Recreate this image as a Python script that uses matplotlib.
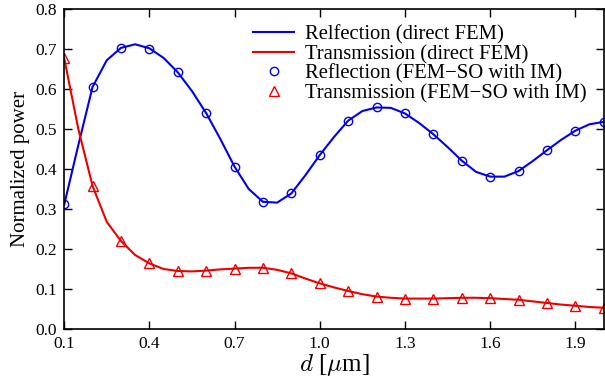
import matplotlib
matplotlib.use('Agg')
import matplotlib.pyplot as plt
import numpy as np
from matplotlib import rcParams

# direct FEM, sampled every 0.05 um
d_fem = np.round(np.arange(0.1, 2.0001, 0.05), 2)
refl_fem = [0.31, 0.46, 0.605, 0.672, 0.703, 0.712, 0.702, 0.678, 0.642, 0.595,
            0.54, 0.475, 0.406, 0.35, 0.318, 0.316, 0.339, 0.385, 0.435, 0.48,
            0.521, 0.545, 0.554, 0.553, 0.539, 0.515, 0.487, 0.455, 0.421, 0.393,
            0.381, 0.381, 0.395, 0.42, 0.447, 0.473, 0.496, 0.512, 0.518]
trans_fem = [0.678, 0.50, 0.358, 0.268, 0.22, 0.185, 0.164, 0.15, 0.145, 0.144,
             0.146, 0.149, 0.151, 0.153, 0.153, 0.148, 0.139, 0.126, 0.114, 0.104,
             0.095, 0.087, 0.081, 0.078, 0.076, 0.076, 0.076, 0.077, 0.078, 0.078,
             0.077, 0.075, 0.073, 0.069, 0.065, 0.061, 0.058, 0.055, 0.053]

# FEM-SO with IM, every 0.1 um
d_so = np.round(np.arange(0.1, 2.0001, 0.1), 2)
refl_so = [0.312, 0.605, 0.703, 0.70, 0.642, 0.539, 0.406, 0.318, 0.339, 0.435,
           0.521, 0.554, 0.539, 0.487, 0.421, 0.381, 0.395, 0.447, 0.496, 0.517]
trans_so = [0.678, 0.358, 0.22, 0.164, 0.145, 0.146, 0.151, 0.153, 0.139, 0.114,
            0.095, 0.081, 0.076, 0.076, 0.078, 0.077, 0.073, 0.065, 0.058, 0.053]

xtick_labels = ['0.1', '0.4', '0.7', '1.0', '1.3', '1.6', '1.9']

rcParams['font.family'] = 'Liberation Serif'
rcParams['mathtext.fontset'] = 'cm'

fig = plt.figure(figsize=(6.05, 3.79), dpi=100)
ax = fig.add_axes([0.106, 0.132, 0.892, 0.844])

ax.plot(d_fem, refl_fem, color='#0000ee', lw=1.5, label='Relfection (direct FEM)')
ax.plot(d_fem, trans_fem, color='#ee0000', lw=1.5, label='Transmission (direct FEM)')
ax.plot(d_so, refl_so, 'o', mfc='none', mec='#0000ee', ms=6, mew=1.0,
        label='Reflection (FEM\u2212SO with IM)')
ax.plot(d_so, trans_so, '^', mfc='none', mec='#ee0000', ms=7, mew=1.0,
        label='Transmission (FEM\u2212SO with IM)')

ax.set_xlim(0.1, 2.0)
ax.set_ylim(0, 0.8)
ax.set_xticks(np.arange(0.1, 2.0, 0.3))
ax.set_xticklabels(xtick_labels)
ax.set_yticks(np.arange(0, 0.81, 0.1))
ax.set_yticklabels(['%.1f' % v for v in np.arange(0, 0.81, 0.1)])
ax.tick_params(direction='in', top=True, right=True, length=6, width=1,
               labelsize=12.5, pad=5)
for s in ax.spines.values():
    s.set_linewidth(1.2)

ax.set_xlabel(r'$d$ [$\mu$m]', fontsize=18, labelpad=0)
ax.set_ylabel('Normalized power', fontsize=15, labelpad=4)

ax.legend(loc='upper left', bbox_to_anchor=(0.323, 0.995), frameon=False, fontsize=14.9,
          handlelength=2.0, handletextpad=0.5, labelspacing=0.0, borderaxespad=0.3)

fig.savefig('out.png', dpi=100)
